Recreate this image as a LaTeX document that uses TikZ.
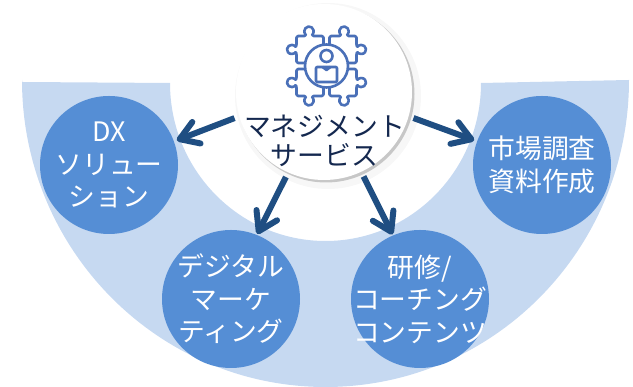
\documentclass[tikz,border=0pt]{standalone}
\usepackage{fontspec}
\usetikzlibrary{arrows.meta}
\setmainfont{Liberation Serif}
\newfontfamily\cjk{Noto Sans CJK JP}
\definecolor{bandblue}{HTML}{C6D9F1}
\definecolor{discblue}{HTML}{558ED5}
\definecolor{arrowblue}{HTML}{1F4E82}
\definecolor{iconblue}{HTML}{4A70B8}
\definecolor{titlenavy}{HTML}{14284F}
\tikzset{
  disc/.style={circle,fill=discblue,minimum size=138pt,inner sep=-20pt,text=white,align=center,font=\fontsize{26.8}{32.5}\selectfont\cjk},
  flow/.style={line width=6pt,arrowblue,shorten <=5pt,-{Straight Barb[length=18pt,width=23pt,round]}},
  iconline/.style={iconblue,line width=2.6pt,line join=round}
}

\begin{document}
\begin{tikzpicture}[x=1pt,y=1pt]
\useasboundingbox (0,0) rectangle (633,387);
\fill[bandblue] (22,305) -- (170,304) arc[start angle=180,end angle=360,x radius=155.5,y radius=158]
  -- (629,307) arc[start angle=0,end angle=-180,x radius=303.5,y radius=307] -- cycle;
\node[circle,fill=black,opacity=.03,minimum size=186pt,inner sep=0pt] (mgmtglow) at (328,291) {};
\node[circle,fill=black!22,minimum size=177pt,inner sep=0pt] (mgmtshade) at (326,293) {};
\node[circle,fill=white,minimum size=176pt,inner sep=0pt] (mgmt) at (324,295) {};
\node[disc] (dx) at (109,222) {DX\\ソリュー\\ション};
\node[disc] (digital) at (231,88) {デジタル\\マーケ\\ティング};
\node[disc] (coaching) at (420,88) {研修/\\コーチング\\コンテンツ};
\node[disc] (research) at (542,222) {市場調査\\資料作成};
\node[align=center,text=titlenavy,font=\fontsize{26.8}{29.5}\selectfont\cjk] (mgmttext) at (324.5,246) {マネジメント\\サービス};
% icon
\begin{scope}[shift={(326.5,321)}]
\foreach \sx/\sy in {1/1,-1/1,1/-1,-1/-1}
  \draw[iconline,xscale=\sx,yscale=\sy,rounded corners=1.5pt] (3,21) -- (3,30) -- (14.5,30) -- (13.91,32.29) arc[start angle=217,end angle=-37,radius=4.5]
    -- (20.5,30) -- (30,30) -- (30,20) -- (31.41,19.21) arc[start angle=143,end angle=-143,radius=4.5] -- (30,13) -- (30,3) -- (20,3);
\draw[iconline,fill=white] (0,0) circle[radius=21.5];
\draw[iconline] (0,10) circle[radius=6];
\draw[iconline,rounded corners=1pt] (-10.5,-16) rectangle (10.5,-1);
\draw[iconline] (-4,-1) -- (0,-4) -- (4,-1);
\end{scope}
\draw[flow,shorten >=3pt] (mgmt.196) -- (dx.20);
\draw[flow,shorten >=1pt] (mgmt.246) -- (digital.68);
\draw[flow,shorten >=1pt] (mgmt.295) -- (coaching.113);
\draw[flow,shorten >=3pt] (mgmt.344) -- (research.160);
\end{tikzpicture}
\end{document}
